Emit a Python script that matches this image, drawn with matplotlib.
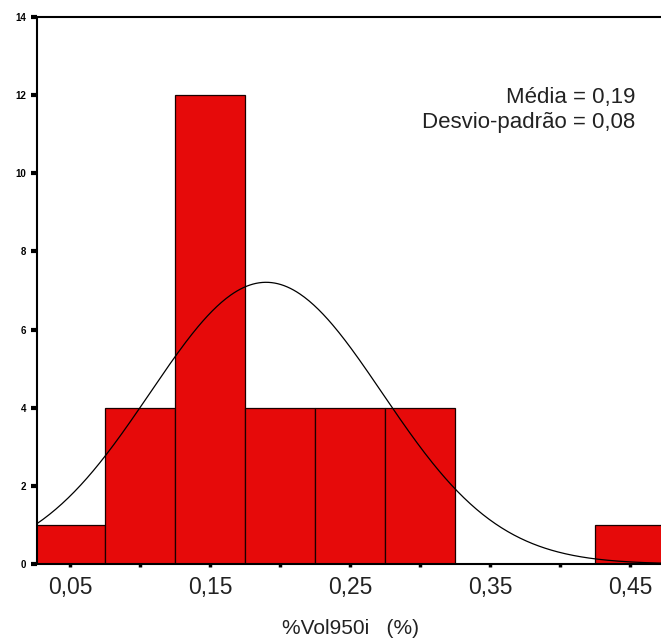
import numpy as np
import matplotlib
matplotlib.use("Agg")
import matplotlib.pyplot as plt

# Data
bin_centers = [0.05, 0.10, 0.15, 0.20, 0.25, 0.30, 0.35, 0.40, 0.45]
counts = [1, 4, 12, 4, 4, 4, 0, 0, 1]
bin_width = 0.05
mean_val = 0.19
sd_val = 0.083
mean_label = "0,19"
sd_label = "0,08"
x_ticks = [0.05, 0.10, 0.15, 0.20, 0.25, 0.30, 0.35, 0.40, 0.45]
x_tick_labels = ["0,05", "", "0,15", "", "0,25", "", "0,35", "", "0,45"]
y_ticks = [0, 2, 4, 6, 8, 10, 12, 14]
x_label = "%Vol950i   (%)"

plt.rcParams['font.family'] = ['Liberation Sans', 'DejaVu Sans']

W, H = 661, 644
fig = plt.figure(figsize=(W / 100, H / 100), dpi=100)
ax = fig.add_axes([37 / W, 1 - 564 / H, (W - 37) / W, (564 - 17) / H])

ax.bar(bin_centers, counts, width=bin_width, color='#E60A0A',
       edgecolor='#1a0000', linewidth=0.9, zorder=2)

xmin, xmax = 0.0264, 0.472
xs = np.linspace(xmin, xmax, 400)
n = sum(counts)
ys = n * bin_width / (sd_val * np.sqrt(2 * np.pi)) * np.exp(-0.5 * ((xs - mean_val) / sd_val) ** 2)
ax.plot(xs, ys, color='black', linewidth=0.9, zorder=3)

ax.set_xlim(xmin, xmax)
ax.set_ylim(0, 14)

ax.set_xticks(x_ticks)
ax.set_xticklabels(x_tick_labels, fontsize=16.5, color='#222222')
ax.set_yticks(y_ticks)
ax.set_yticklabels([str(v) for v in y_ticks], fontsize=7, fontweight='bold')

ax.tick_params(axis='y', direction='out', length=4, width=3, pad=4)
ax.tick_params(axis='x', direction='out', length=2.5, width=2.5, pad=6)

for s in ['left', 'bottom', 'top']:
    ax.spines[s].set_linewidth(1.5)
    ax.spines[s].set_color('black')
ax.spines['right'].set_visible(False)

ax.set_xlabel(x_label, fontsize=15, color='#222222')
ax.xaxis.set_label_coords((351 - 37) / (W - 37), -(619 - 564) / (564 - 17))

ax.text((635 - 37) / (W - 37), (564 - 110) / (564 - 17),
        f"Média = {mean_label}\nDesvio-padrão = {sd_label}",
        transform=ax.transAxes, ha='right', va='center', fontsize=16,
        color='#222222', linespacing=1.3)

fig.savefig("out.png", dpi=100)
